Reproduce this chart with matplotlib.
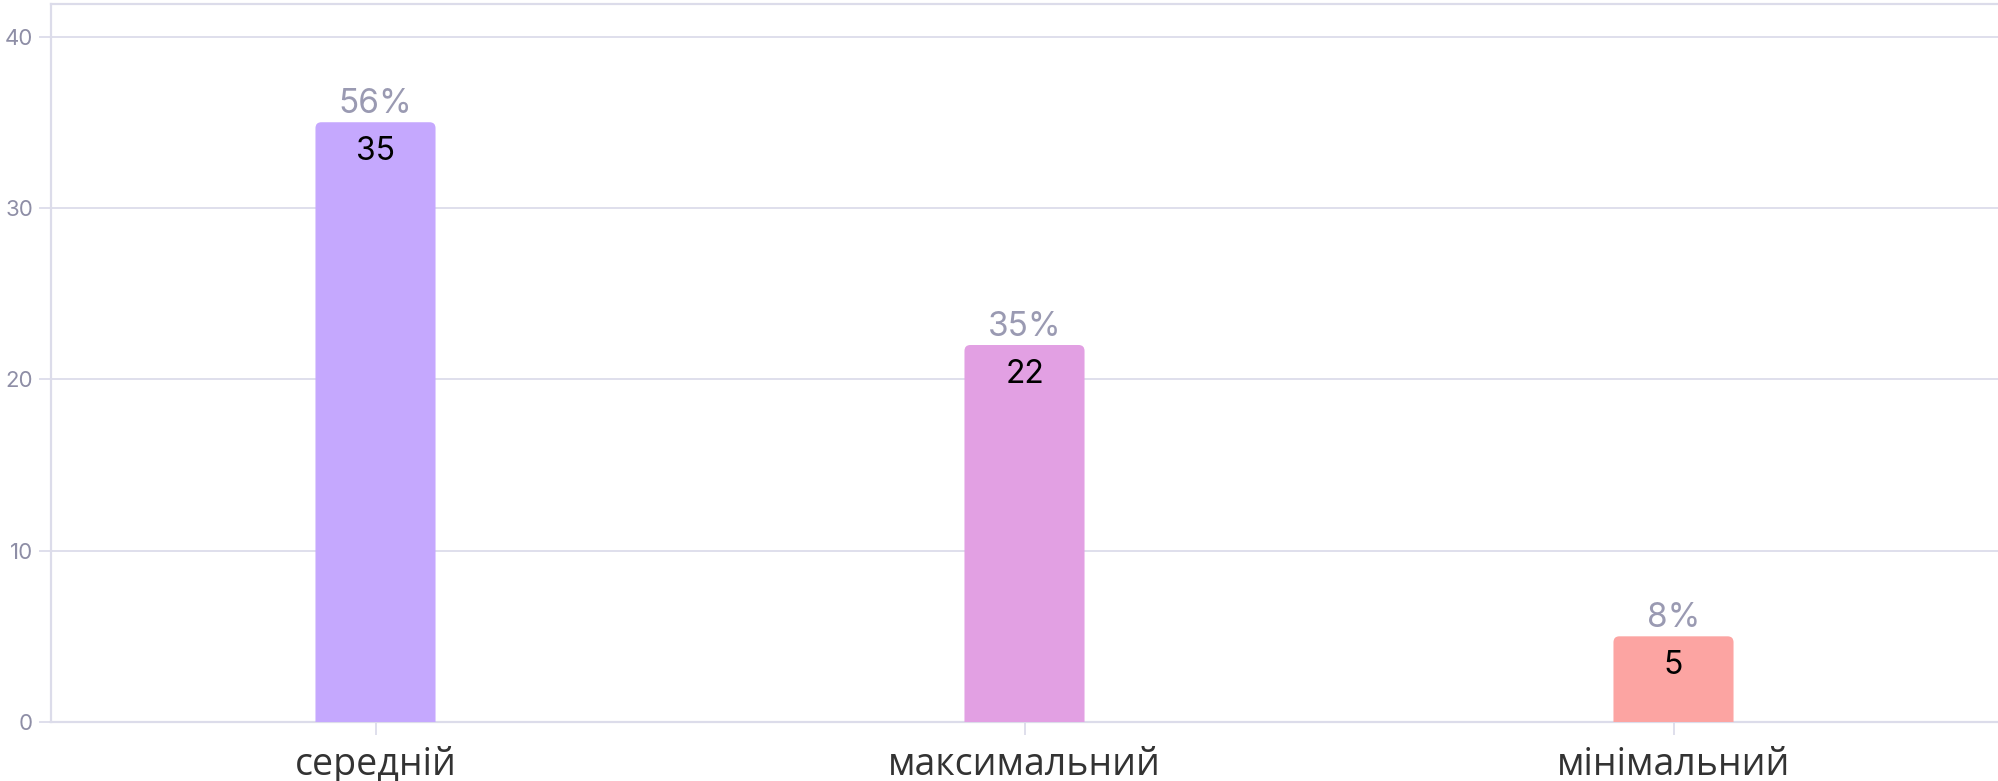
import matplotlib.pyplot as plt
from matplotlib.patches import FancyBboxPatch

# chart data
categories = ['середній', 'максимальний', 'мінімальний']
counts = [35, 22, 5]
percents = [56, 35, 8]
bar_colors = ['#c5a8fe', '#e2a0e3', '#fca4a2']
y_ticks = [0, 10, 20, 30, 40]

grid_color = '#dcdcea'
tick_color = '#8e8ea6'
num_font = 'Inter'

fig = plt.figure(figsize=(19.98, 7.81), dpi=100)
ax = fig.add_axes([51 / 1998, 59 / 781, 1 - 51 / 1998, 718 / 781])

x = list(range(len(categories)))
bars = ax.bar(x, counts, width=0.185, color=bar_colors, zorder=3)

# swap plain bars for ones with rounded corners (bottom corners hidden below axis)
rx, ry = 0.009, 0.35
for b, c in zip(bars, bar_colors):
    b.set_visible(False)
    p = FancyBboxPatch((b.get_x(), -1.0), b.get_width(), b.get_height() + 1.0,
                       boxstyle=f"round,pad=0,rounding_size={rx}",
                       mutation_aspect=ry / rx, fc=c, ec='none', zorder=3)
    ax.add_patch(p)

for xi, v, pc in zip(x, counts, percents):
    ax.annotate(f'{pc}%', (xi, v), xytext=(0, 13), textcoords='offset points',
                ha='center', va='center', fontsize=24, color='#9a9ab2',
                family=num_font)
    ax.annotate(f'{v}', (xi, v), xytext=(0, -21), textcoords='offset points',
                ha='center', va='center', fontsize=23, color='black',
                family=num_font)

ax.set_xlim(-0.5, 2.5)
ax.set_ylim(0, 41.9)
ax.set_xticks(x, categories)
ax.set_yticks(y_ticks)

ax.grid(axis='y', color=grid_color, linewidth=1.3, zorder=0)
for side in ['left', 'top', 'bottom']:
    ax.spines[side].set_color(grid_color)
    ax.spines[side].set_linewidth(1.6)
ax.spines['right'].set_visible(False)

ax.tick_params(axis='y', length=9, width=1.3, color=grid_color, labelcolor=tick_color,
               labelsize=16, pad=4)
ax.tick_params(axis='x', length=9, width=1.3, color=grid_color, labelcolor='#333333',
               labelsize=27, pad=8)
for lbl in ax.get_yticklabels():
    lbl.set_family(num_font)
for lbl in ax.get_xticklabels():
    lbl.set_family('Open Sans')

fig.savefig('out.png', dpi=100)
